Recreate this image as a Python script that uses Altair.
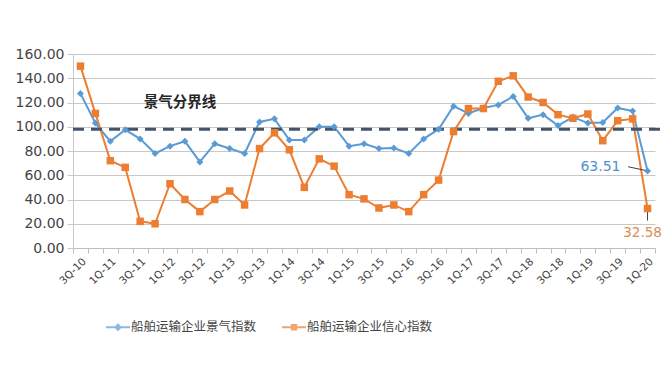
import altair as alt
import pandas as pd

quarters = ["3Q-10", "4Q-10",
            "1Q-11", "2Q-11", "3Q-11", "4Q-11",
            "1Q-12", "2Q-12", "3Q-12", "4Q-12",
            "1Q-13", "2Q-13", "3Q-13", "4Q-13",
            "1Q-14", "2Q-14", "3Q-14", "4Q-14",
            "1Q-15", "2Q-15", "3Q-15", "4Q-15",
            "1Q-16", "2Q-16", "3Q-16", "4Q-16",
            "1Q-17", "2Q-17", "3Q-17", "4Q-17",
            "1Q-18", "2Q-18", "3Q-18", "4Q-18",
            "1Q-19", "2Q-19", "3Q-19", "4Q-19",
            "1Q-20"]
jingqi = [127.5, 103, 88, 97.5, 90, 78, 84, 88, 71, 86, 82, 78, 104, 106.5,
          89, 89, 100, 100, 84, 86, 82, 82.5, 78, 90, 98, 117, 111, 115.5,
          118, 125, 107, 110, 101, 108, 103, 103.5, 115.5, 113, 63.51]
xinxin = [150, 111, 72, 66.5, 22, 20, 53, 40, 30, 40, 47, 35.5, 82, 95,
          81, 50, 73.5, 67.5, 44, 40.5, 33, 35.5, 30, 44, 56, 96, 115, 115,
          137.5, 142, 124.5, 120, 110, 107, 110.5, 88.5, 105, 106.5, 32.58]
series_names = ["船舶运输企业景气指数", "船舶运输企业信心指数"]
colors = ["#5b9bd5", "#ed7d31"]
boundary = 98
boundary_label = "景气分界线"
y_ticks = [0, 20, 40, 60, 80, 100, 120, 140, 160]

rows = []
for i, q in enumerate(quarters):
    rows.append({"i": i, "q": q, "s": series_names[0], "v": jingqi[i]})
    rows.append({"i": i, "q": q, "s": series_names[1], "v": xinxin[i]})
df = pd.DataFrame(rows)
n = len(quarters)

CJK = "Noto Sans CJK SC"
NUM = "DejaVu Sans"
TXT = "#454545"

xscale = alt.Scale(domain=[-0.5, n - 0.5], nice=False, zero=False)
yscale = alt.Scale(domain=[0, 160], nice=False)
cscale = alt.Scale(domain=series_names, range=colors)

label_expr = "[" + ",".join(f"'{q}'" for q in quarters) + "][datum.value]"

x_tick_axis = alt.Axis(values=[k - 0.5 for k in range(n + 1)], labels=False,
                       ticks=True, tickSize=5, tickColor="#bfbfbf",
                       domainColor="#bfbfbf", grid=False, title=None,
                       orient="bottom")
x_label_axis = alt.Axis(values=list(range(0, n, 2)), labelExpr=label_expr,
                        labelAngle=-45, labelOverlap=False, ticks=False,
                        domain=False, grid=False,
                        title=None, orient="bottom", labelFontSize=10.5,
                        labelFont=NUM, labelColor=TXT, labelPadding=8)
y_axis = alt.Axis(values=y_ticks, format=".2f", grid=True, gridColor="#c8c8c8",
                  tickColor="#c8c8c8", tickSize=6, domainColor="#c8c8c8",
                  labelFontSize=14, labelFont=NUM, labelColor=TXT,
                  title=None, labelPadding=3)

Y = alt.Y("v:Q", scale=yscale, axis=y_axis)
base = alt.Chart(df)
blue_df = base.transform_filter(alt.datum.s == series_names[0])
orange_df = base.transform_filter(alt.datum.s == series_names[1])

line_blue = blue_df.mark_line(strokeWidth=2, color=colors[0]).encode(
    x=alt.X("i:Q", scale=xscale, axis=x_tick_axis), y=Y)
line_orange = orange_df.mark_line(strokeWidth=2, color=colors[1]).encode(
    x=alt.X("i:Q", scale=xscale, axis=None), y=Y)

pts_blue = blue_df.mark_point(
    shape="diamond", filled=True, size=49, opacity=1, color=colors[0]
).encode(x=alt.X("i:Q", scale=xscale, axis=x_label_axis), y=Y)
pts_orange = orange_df.mark_point(
    shape="square", filled=True, size=56, opacity=1, color=colors[1]
).encode(x=alt.X("i:Q", scale=xscale, axis=None), y=Y)

leg = alt.Legend(title=None, orient="none", legendX=36, legendY=264,
                 direction="horizontal", labelFontSize=12.5, labelFont=CJK,
                 labelColor=TXT, symbolSize=256, symbolStrokeWidth=2,
                 columnPadding=21, labelOffset=4)
shape_scale = alt.Scale(domain=series_names,
                        range=["M-1.5,0H1.5M0,-0.32L0.32,0L0,0.32L-0.32,0Z",
                               "M-1.5,0H1.5M-0.27,-0.27H0.27V0.27H-0.27Z"])
# legend-only layer: no rows drawn, the scales carry the legend entries
legend_layer = base.transform_filter("false").mark_point(filled=True).encode(
    x=alt.X("i:Q", scale=xscale, axis=None), y=Y,
    fill=alt.Fill("s:N", scale=cscale, legend=leg),
    stroke=alt.Stroke("s:N", scale=cscale, legend=leg),
    shape=alt.Shape("s:N", scale=shape_scale, legend=leg),
)

bdf = pd.DataFrame({"v": [boundary], "t": [boundary_label]})
rule = alt.Chart(bdf).mark_rule(strokeDash=[11, 7], strokeWidth=3,
                                color="#44546a").encode(
    y=Y, x=alt.value(0), x2=alt.value(590))
blabel = alt.Chart(bdf).mark_text(fontSize=14.5, fontWeight="bold",
                                  color="#262626", font=CJK).encode(
    text="t:N", x=alt.value(107), y=alt.value(49))

last_blue = blue_df.transform_filter(alt.datum.i == n - 1)
last_orange = orange_df.transform_filter(alt.datum.i == n - 1)
txt_blue = last_blue.mark_text(
    align="right", dx=-27, dy=-4, fontSize=14, font=NUM, color="#4e92c9"
).encode(x=alt.X("i:Q", scale=xscale, axis=None), y=Y,
         text=alt.Text("v:Q", format=".2f"))
txt_orange = last_orange.mark_text(
    align="center", dx=-5, dy=25, fontSize=13.5, font=NUM, color="#d98c55"
).encode(x=alt.X("i:Q", scale=xscale, axis=None), y=Y,
         text=alt.Text("v:Q", format=".2f"))

lead_blue = last_blue.transform_calculate(
    x2="datum.i - 1.3", y2="datum.v + 3.5", y1="datum.v + 0.5", x1="datum.i - 0.15"
).mark_rule(color="#404040", strokeWidth=1).encode(
    x=alt.X("x1:Q", scale=xscale, axis=None),
    y=alt.Y("y1:Q", scale=yscale, axis=y_axis),
    x2="x2:Q", y2="y2:Q")
lead_orange = last_orange.transform_calculate(
    y1="datum.v - 3", y2="datum.v - 10"
).mark_rule(color="#404040", strokeWidth=1).encode(
    x=alt.X("i:Q", scale=xscale, axis=None),
    y=alt.Y("y1:Q", scale=yscale, axis=y_axis),
    y2="y2:Q")

chart = alt.layer(
    line_blue, line_orange, rule, pts_blue, pts_orange, legend_layer, blabel,
    lead_blue, lead_orange, txt_blue, txt_orange
).resolve_axis(x="independent").properties(
    width=582, height=194,
    autosize=alt.AutoSizeParams(type="none"),
    padding={"left": 65, "top": 46, "right": 7, "bottom": 120},
    background="white",
).configure_view(stroke=None)

chart.save("out.html", embed_options={"renderer": "svg", "actions": False})
